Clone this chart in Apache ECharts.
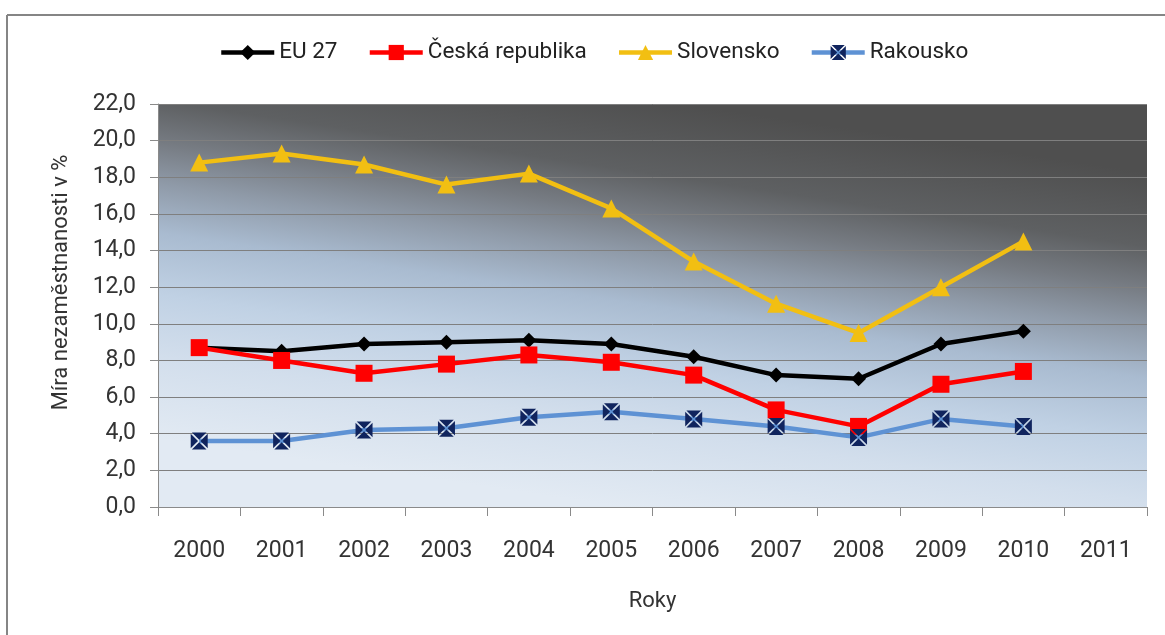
<!DOCTYPE html>
<html>
<head>
<meta charset="utf-8">
<script src="https://cdn.jsdelivr.net/npm/echarts@6/dist/echarts.min.js"></script>
<style>
html,body{margin:0;padding:0;background:#fff;}
#chart{width:1165px;height:635px;}
</style>
</head>
<body>
<div id="chart"></div>
<script>
var years = ['2000','2001','2002','2003','2004','2005','2006','2007','2008','2009','2010','2011'];
var eu27 = [8.7, 8.5, 8.9, 9.0, 9.1, 8.9, 8.2, 7.2, 7.0, 8.9, 9.6, null];
var cesko = [8.7, 8.0, 7.3, 7.8, 8.3, 7.9, 7.2, 5.3, 4.4, 6.7, 7.4, null];
var slovensko = [18.8, 19.3, 18.7, 17.6, 18.2, 16.3, 13.4, 11.1, 9.5, 12.0, 14.5, null];
var rakousko = [3.6, 3.6, 4.2, 4.3, 4.9, 5.2, 4.8, 4.4, 3.8, 4.8, 4.4, null];
var seriesNames = ['EU 27', 'Česká republika', 'Slovensko', 'Rakousko'];
var yTitle = 'Míra nezaměstnanosti v %';
var xTitle = 'Roky';

var FONT = 'Roboto';
var chart = echarts.init(document.getElementById('chart'), null, {renderer: 'canvas'});
var xSym = 'path://M0.7,0L9.3,0L5,4.3Z M10,0.7L10,9.3L5.7,5Z M9.3,10L0.7,10L5,5.7Z M0,9.3L0,0.7L4.3,5Z';

var bg = new echarts.graphic.LinearGradient(0.47, 1, 0.53, 0, [
  {offset: 0, color: '#e2eaf3'},
  {offset: 0.2, color: '#d2deec'},
  {offset: 0.35, color: '#c0d1e4'},
  {offset: 0.5, color: '#a9bbd0'},
  {offset: 0.62, color: '#8f9aa8'},
  {offset: 0.72, color: '#767b82'},
  {offset: 0.82, color: '#5e6062'},
  {offset: 1, color: '#4f4f4f'}
]);

chart.setOption({
  animation: false,
  backgroundColor: '#ffffff',
  textStyle: {fontFamily: FONT},
  graphic: [
    {type: 'line', shape: {x1: 7, y1: 15, x2: 1165, y2: 15}, style: {stroke: '#858585', lineWidth: 2}},
    {type: 'line', shape: {x1: 7, y1: 15, x2: 7, y2: 635}, style: {stroke: '#858585', lineWidth: 2}}
  ],
  legend: {
    top: 36,
    left: 214,
    itemWidth: 53,
    itemHeight: 19,
    itemGap: 30,
    lineStyle: {width: 4.5},
    textStyle: {fontFamily: FONT, fontSize: 22.5, color: '#222'},
    data: seriesNames
  },
  grid: {
    left: 158, right: 18, top: 104, bottom: 128,
    show: true,
    borderWidth: 0,
    backgroundColor: bg
  },
  xAxis: {
    type: 'category',
    data: years,
    boundaryGap: true,
    name: xTitle,
    nameLocation: 'middle',
    nameGap: 83,
    nameTextStyle: {fontFamily: FONT, fontSize: 22, color: '#333'},
    axisLine: {lineStyle: {color: '#8a8a8a', width: 1}},
    axisTick: {show: true, length: 9, lineStyle: {color: '#8a8a8a'}},
    axisLabel: {fontFamily: FONT, fontSize: 23, color: '#333', margin: 33}
  },
  yAxis: {
    type: 'value',
    min: 0, max: 22, interval: 2,
    name: yTitle,
    nameLocation: 'middle',
    nameGap: 86,
    nameRotate: 90,
    nameTextStyle: {fontFamily: FONT, fontSize: 22, color: '#333', padding: [0, 0, 0, 46]},
    axisLine: {show: true, lineStyle: {color: '#8a8a8a', width: 1}},
    axisTick: {show: true, length: 8, lineStyle: {color: '#8a8a8a'}},
    axisLabel: {fontFamily: FONT, fontSize: 23, color: '#333', margin: 22,
      formatter: function (v) { return v.toFixed(1).replace('.', ','); }},
    splitLine: {show: true, lineStyle: {color: '#7f7f7f', width: 1}}
  },
  series: [
    {
      name: seriesNames[0], type: 'line', data: eu27, symbol: 'diamond', symbolSize: 15,
      lineStyle: {color: '#000', width: 4.5}, itemStyle: {color: '#000'}, z: 3
    },
    {
      name: seriesNames[1], type: 'line', data: cesko, symbol: 'rect', symbolSize: 17,
      lineStyle: {color: '#ff0000', width: 4.5}, itemStyle: {color: '#ff0000'}, z: 4
    },
    {
      name: seriesNames[2], type: 'line', data: slovensko, symbol: 'triangle', symbolSize: 18,
      lineStyle: {color: '#f2bf12', width: 4.5}, itemStyle: {color: '#f2bf12'}, z: 2
    },
    {
      name: seriesNames[3], type: 'line', data: rakousko, symbol: xSym, symbolSize: 17,
      lineStyle: {color: '#5e92d4', width: 4.5}, itemStyle: {color: '#10245e'}, z: 5
    }
  ]
});
</script>
</body>
</html>
